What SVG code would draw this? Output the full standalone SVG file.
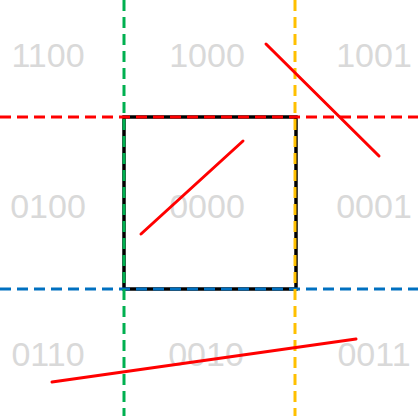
<svg xmlns="http://www.w3.org/2000/svg" width="418" height="416" viewBox="0 0 418 416">
<style>
.lbl{font-family:"Liberation Sans",Arial,sans-serif;font-size:34px;fill:#d9d9d9;text-anchor:middle}
.d{stroke-width:3;stroke-dasharray:11,6;fill:none}
.seg{stroke:#ff0000;stroke-width:3;stroke-linecap:round;fill:none}
</style>
<rect width="418" height="416" fill="#ffffff"/>
<g id="labels">
<text class="lbl" x="48" y="67">1100</text>
<text class="lbl" x="207" y="67">1000</text>
<text class="lbl" x="374" y="67">1001</text>
<text class="lbl" x="48" y="218">0100</text>
<text class="lbl" x="207" y="218">0000</text>
<text class="lbl" x="374" y="218">0001</text>
<text class="lbl" x="48" y="366">0110</text>
<text class="lbl" x="206" y="366">0010</text>
<text class="lbl" x="374" y="366">0011</text>
</g>
<g id="window">
<rect x="124" y="117" width="172" height="172" fill="none" stroke="#000000" stroke-width="3.5"/>
</g>
<g id="connectors">
<line class="d" x1="0" y1="117" x2="418" y2="117" stroke="#ff0000"/>
<line class="d" x1="0" y1="289" x2="418" y2="289" stroke="#0070c0"/>
<line class="d" x1="124" y1="0" x2="124" y2="416" stroke="#00b050"/>
<line class="d" x1="295" y1="0" x2="295" y2="416" stroke="#ffc000"/>
<line class="seg" x1="141" y1="234" x2="243" y2="141"/>
<line class="seg" x1="266" y1="44" x2="379" y2="156"/>
<line class="seg" x1="52" y1="382" x2="356" y2="339"/>
</g>
</svg>
